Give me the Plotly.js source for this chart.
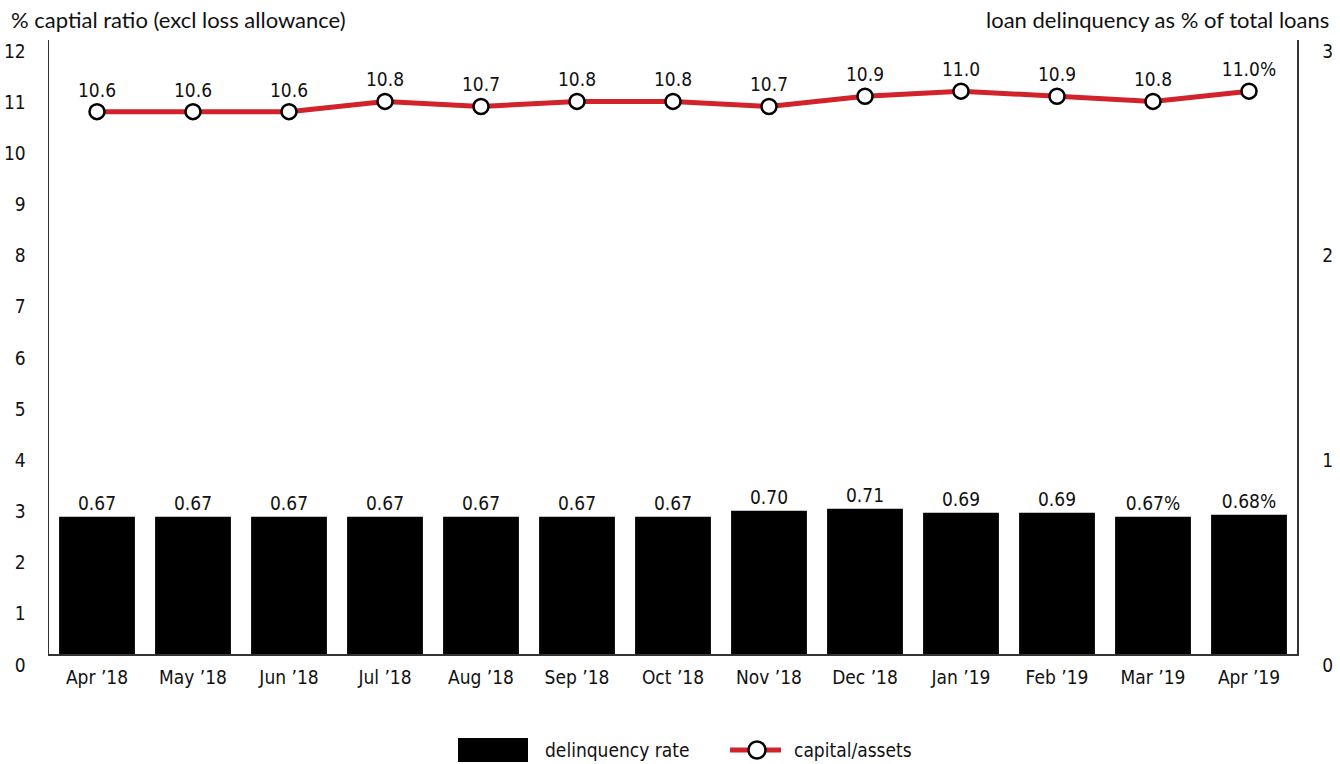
<!DOCTYPE html>
<html>
<head>
<meta charset="utf-8">
<script src="https://cdn.plot.ly/plotly-3.0.1.min.js"></script>
<style>html,body{margin:0;padding:0;background:#fff;}#chart{width:1340px;height:764px;}</style>
</head>
<body>
<div id="chart"></div>
<script>
const categories = ["Apr \u201918","May \u201918","Jun \u201918","Jul \u201918","Aug \u201918","Sep \u201918","Oct \u201918","Nov \u201918","Dec \u201918","Jan \u201919","Feb \u201919","Mar \u201919","Apr \u201919"];
const delinquencyRate = [0.67,0.67,0.67,0.67,0.67,0.67,0.67,0.70,0.71,0.69,0.69,0.67,0.68];
const capitalAssets = [10.6,10.6,10.6,10.8,10.7,10.8,10.8,10.7,10.9,11.0,10.9,10.8,11.0];
const delinquencyLabels = ["0.67","0.67","0.67","0.67","0.67","0.67","0.67","0.70","0.71","0.69","0.69","0.67%","0.68%"];
const capitalLabels = ["10.6","10.6","10.6","10.8","10.7","10.8","10.8","10.7","10.9","11.0","10.9","10.8","11.0%"];
const leftTicks = [0,1,2,3,4,5,6,7,8,9,10,11,12];
const rightTicks = [0,1,2,3];

const W = 1340, H = 764;
const M = {l: 49, r: 43, t: 40, b: 110};
const PW = W - M.l - M.r, PH = H - M.t - M.b;
const px = x => (x - M.l) / PW;
const py = y => (H - M.b - y) / PH;

const narrow = '"DejaVu Sans Condensed", "Liberation Sans Narrow", sans-serif';
const wide = 'Lato, "Noto Sans", sans-serif';
const RED = '#d2232a';

const bars = {
  type: 'bar', x: categories, y: delinquencyRate, yaxis: 'y2',
  marker: {color: '#000'},
  text: delinquencyLabels, textposition: 'outside', cliponaxis: false,
  textfont: {family: narrow, size: 19, color: '#111'},
  hoverinfo: 'x+y', showlegend: false, name: 'delinquency rate'
};
const line = {
  type: 'scatter', mode: 'lines+markers+text', x: categories, y: capitalAssets, yaxis: 'y',
  line: {color: RED, width: 5},
  marker: {size: 15, color: '#fff', line: {color: '#000', width: 2.5}},
  text: capitalLabels, textposition: 'top center', cliponaxis: false,
  textfont: {family: narrow, size: 19, color: '#111'},
  showlegend: false, name: 'capital/assets'
};

const axisCommon = {
  showgrid: false, zeroline: false, showline: true, linecolor: '#333', linewidth: 1.5,
  ticks: '', tickfont: {family: narrow, size: 19, color: '#111'}, fixedrange: true
};

const layout = {
  width: W, height: H,
  margin: M,
  paper_bgcolor: '#fff', plot_bgcolor: '#fff',
  bargap: 0.21,
  showlegend: false,
  xaxis: Object.assign({}, axisCommon, {type: 'category', range: [-0.5, 12.5], ticklabelstandoff: 6}),
  yaxis: Object.assign({}, axisCommon, {range: [0, 12], tickvals: leftTicks, ticklabelstandoff: 18, ticklabelshift: 11}),
  yaxis2: Object.assign({}, axisCommon, {range: [0, 3], tickvals: rightTicks, overlaying: 'y', side: 'right', ticklabelstandoff: 20, ticklabelshift: 11}),
  annotations: [
    {xref: 'paper', yref: 'paper', x: px(9), y: py(20), xanchor: 'left', yanchor: 'middle', showarrow: false,
     text: '% captial ratio (excl loss allowance)', font: {family: wide, size: 22, color: '#111'}},
    {xref: 'paper', yref: 'paper', x: px(1331), y: py(20), xanchor: 'right', yanchor: 'middle', showarrow: false,
     text: 'loan delinquency as % of total loans', font: {family: wide, size: 22, color: '#111'}},
    {xref: 'paper', yref: 'paper', x: px(543), y: py(750), xanchor: 'left', yanchor: 'middle', showarrow: false,
     text: 'delinquency rate', font: {family: narrow, size: 19, color: '#111'}},
    {xref: 'paper', yref: 'paper', x: px(792), y: py(750), xanchor: 'left', yanchor: 'middle', showarrow: false,
     text: 'capital/assets', font: {family: narrow, size: 19, color: '#111'}}
  ],
  shapes: [
    {type: 'rect', xref: 'paper', yref: 'paper', x0: px(458), x1: px(528), y0: py(738), y1: py(762),
     fillcolor: '#000', line: {width: 0}},
    {type: 'line', xref: 'paper', yref: 'paper', x0: px(730), x1: px(781), y0: py(750), y1: py(750),
     line: {color: RED, width: 5}},
    {type: 'circle', xref: 'paper', yref: 'paper', x0: px(748.5), x1: px(765.5), y0: py(741.5), y1: py(758.5),
     fillcolor: '#fff', line: {color: '#000', width: 2.5}}
  ]
};

Plotly.newPlot('chart', [bars, line], layout, {displayModeBar: false, staticPlot: true});
</script>
</body>
</html>
